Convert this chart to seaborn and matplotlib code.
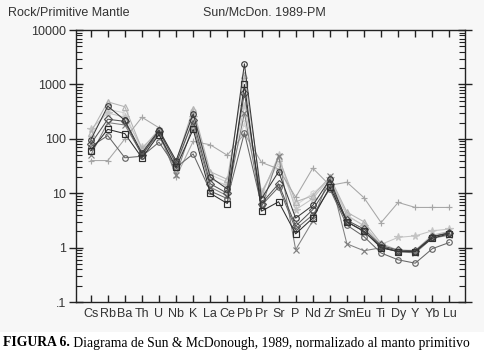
import numpy as np
import pandas as pd
import matplotlib.pyplot as plt
import matplotlib.ticker as mticker
from matplotlib.patches import Rectangle
import seaborn as sns

# elements along the x axis
elements = ['Cs', 'Rb', 'Ba', 'Th', 'U', 'Nb', 'K', 'La', 'Ce', 'Pb', 'Pr',
            'Sr', 'P', 'Nd', 'Zr', 'Sm', 'Eu', 'Ti', 'Dy', 'Y', 'Yb', 'Lu']

# rock / primitive mantle, one list per sample
s_dark_circle = [95, 400, 220, 55, 145, 40, 290, 20, 12, 2400, 8, 25, 3.5, 6, 18, 3.0, 2.0, 1.05, 0.85, 0.85, 1.6, 1.85]
s_light_tri = [130, 480, 390, 65, 150, 38, 360, 25, 18, 1500, 10, 45, 7, 9, 20, 4.5, 3.0, 1.2, 0.9, 0.9, 1.7, 2.0]
s_plus = [40, 40, 100, 250, 160, 20, 90, 78, 50, 125, 37, 28, 8.5, 29, 14, 16, 8.3, 2.9, 6.8, 5.5, 5.5, 5.5]
s_open_circle = [72, 115, 45, 48, 87, 30, 53, 11, 8, 130, 6, 13, 2.2, 4, 12, 2.6, 1.6, 0.8, 0.6, 0.52, 0.96, 1.25]
s_square = [60, 150, 125, 45, 120, 30, 150, 10, 6.5, 1000, 4.7, 7, 1.8, 3.5, 13, 3.0, 2.0, 1.0, 0.85, 0.85, 1.5, 1.8]
s_diamond = [80, 230, 210, 50, 140, 35, 220, 15, 10, 700, 6.5, 15, 2.5, 5, 15, 3.2, 2.2, 1.1, 0.9, 0.88, 1.6, 1.9]
s_star = [150, 300, 250, 70, 130, 28, 250, 18, 14, 400, 9, 50, 5, 8, 19, 4, 2.5, 1.15, 1.55, 1.65, 2.05, 2.2]
s_cross = [50, 200, 180, 52, 125, 22, 180, 13, 9, 300, 5.5, 49, 0.92, 3.1, 21, 1.18, 0.88, 1.0, 0.85, 0.8, 1.5, 1.7]
s_hex = [110, 350, 300, 60, 135, 33, 320, 22, 16, 200, 11, 35, 6, 10, 18, 3.8, 2.6, 1.1, 0.85, 0.85, 1.6, 1.9]

series = [
    (s_hex, '#d2d2d2', 'h'),
    (s_star, '#c4c4c4', '*'),
    (s_light_tri, '#b4b4b4', '^'),
    (s_plus, '#a6a6a6', '+'),
    (s_cross, '#808080', 'x'),
    (s_open_circle, '#666666', 'o'),
    (s_diamond, '#555555', 'D'),
    (s_square, '#2e2e2e', 's'),
    (s_dark_circle, '#3a3a3a', 'o'),
]

sns.set_theme(style='ticks')
plt.rcParams['font.family'] = ['Liberation Sans', 'DejaVu Sans']

fig = plt.figure(figsize=(4.84, 3.58), dpi=100, facecolor='white')
# light grey panel behind the chart, caption sits on white
fig.patches.append(Rectangle((0, 1 - 332 / 358), 1, 332 / 358, transform=fig.transFigure,
                             facecolor='#f7f7f7', edgecolor='none', zorder=-10))
ax = fig.add_axes([0.157, 0.156, 0.804, 0.760])
ax.set_facecolor('#f7f7f7')

x = np.arange(len(elements))
for vals, col, mk in series:
    sns.lineplot(x=x, y=vals, ax=ax, color=col, lw=0.75, marker=mk, markersize=4 if mk != '*' else 5.5,
                 markerfacecolor=col if mk == '*' else 'none', markeredgecolor=col,
                 markeredgewidth=0.85, sort=False, legend=False)

ax.set_yscale('log')
ax.set_ylim(0.1, 10000)
ax.set_xlim(-0.86, 21.92)
ax.set_xticks(x)
ax.set_xticklabels(elements)
ax.set_yticks([0.1, 1, 10, 100, 1000, 10000])
ax.set_yticklabels(['.1', '1', '10', '100', '1000', '10000'])
ax.yaxis.set_minor_locator(mticker.LogLocator(base=10, subs=np.arange(2, 10)))
ax.yaxis.set_minor_formatter(mticker.NullFormatter())

for sp in ax.spines.values():
    sp.set_color('#222222')
    sp.set_linewidth(1.0)
    sp.set_visible(True)

ax.tick_params(axis='x', which='major', direction='in', length=5, width=1, top=True, bottom=True,
               color='#222222', labelsize=9, labelcolor='#333333', pad=4)
ax.tick_params(axis='y', which='major', direction='inout', length=10, width=1, left=True, right=True,
               color='#222222', labelsize=9, labelcolor='#333333', pad=2)
ax.tick_params(axis='y', which='minor', direction='in', length=4, width=0.8, left=True, right=True,
               color='#222222')
ax.set_xlabel('')
ax.set_ylabel('')

fig.text(8 / 484, 1 - 13 / 358, 'Rock/Primitive Mantle', fontsize=9, color='#333333', va='center', ha='left')
fig.text(203 / 484, 1 - 13 / 358, 'Sun/McDon. 1989-PM', fontsize=9, color='#333333', va='center', ha='left')

cap = fig.text(3 / 484, 1 - 343 / 358, 'FIGURA 6.', fontsize=9.85, fontweight='bold',
               family=['Liberation Serif', 'DejaVu Serif'], color='black', va='center', ha='left')
ax.annotate(' Diagrama de Sun & McDonough, 1989, normalizado al manto primitivo', xy=(1, 0.5),
            xycoords=cap, va='center', ha='left', fontsize=9.85,
            family=['Liberation Serif', 'DejaVu Serif'], color='black', annotation_clip=False)

fig.savefig('out.png', dpi=100, facecolor=fig.get_facecolor())
